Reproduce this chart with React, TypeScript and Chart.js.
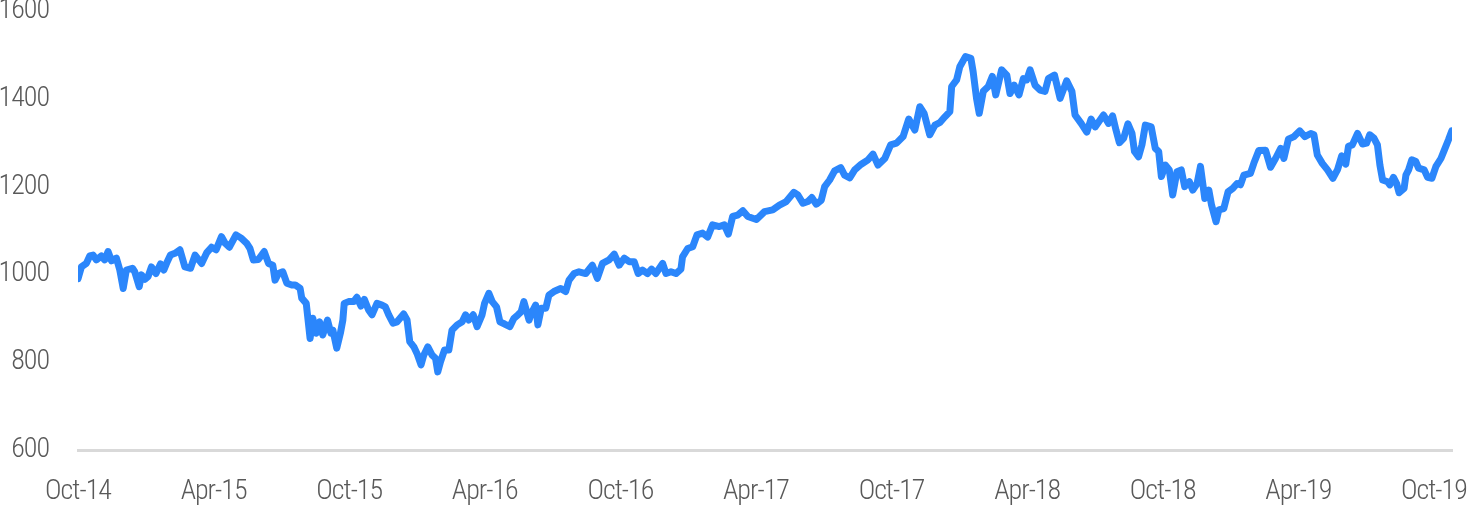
import React, { useEffect, useRef } from "react";
import { Chart, registerables } from "chart.js";

Chart.register(...registerables);

// Months elapsed since Oct-2014 for each observation
const months = [
  0.0, 0.15, 0.37, 0.52, 0.67, 0.81, 1.03, 1.18, 1.33, 1.48, 1.7, 1.85, 2.0, 2.14, 2.41, 2.51, 2.71, 2.81, 2.96, 3.1,
  3.25, 3.45, 3.65, 3.8, 3.95, 4.09, 4.29, 4.51, 4.73, 4.98, 5.18, 5.47, 5.69, 5.91, 6.11, 6.35, 6.51, 6.7, 6.99, 7.24,
  7.46, 7.61, 7.76, 7.98, 8.24, 8.43, 8.62, 8.72, 8.87, 9.06, 9.24, 9.46, 9.61, 9.83, 9.9, 10.1, 10.27, 10.39, 10.54, 10.69,
  10.83, 11.04, 11.19, 11.28, 11.45, 11.61, 11.72, 11.78, 11.97, 12.2, 12.34, 12.52, 12.67, 12.86, 13.01, 13.23, 13.45, 13.6, 13.75, 13.94,
  14.12, 14.41, 14.56, 14.68, 14.86, 15.0, 15.18, 15.3, 15.48, 15.67, 15.82, 15.92, 16.04, 16.22, 16.41, 16.55, 16.78, 17.0, 17.15, 17.29,
  17.49, 17.66, 17.88, 17.99, 18.18, 18.33, 18.52, 18.67, 18.88, 19.11, 19.29, 19.47, 19.61, 19.73, 19.96, 20.06, 20.25, 20.35, 20.5, 20.7,
  20.84, 21.06, 21.36, 21.58, 21.73, 21.95, 22.17, 22.47, 22.76, 22.98, 23.21, 23.5, 23.73, 23.95, 24.17, 24.39, 24.61, 24.79, 24.98, 25.2,
  25.38, 25.57, 25.87, 26.02, 26.24, 26.46, 26.68, 26.75, 26.98, 27.2, 27.39, 27.64, 27.86, 28.08, 28.38, 28.6, 28.78, 28.97, 29.19, 29.42,
  29.64, 29.86, 30.02, 30.38, 30.74, 31.04, 31.34, 31.68, 31.85, 32.08, 32.3, 32.47, 32.67, 32.89, 33.04, 33.26, 33.48, 33.75, 33.92, 34.15,
  34.37, 34.66, 34.96, 35.18, 35.4, 35.7, 35.96, 36.22, 36.51, 36.76, 37.03, 37.25, 37.44, 37.69, 37.92, 38.14, 38.36, 38.58, 38.66, 38.88,
  39.02, 39.27, 39.51, 39.61, 39.76, 39.88, 40.06, 40.28, 40.46, 40.61, 40.87, 41.1, 41.24, 41.43, 41.64, 41.83, 41.98, 42.13, 42.35, 42.57,
  42.79, 42.94, 43.21, 43.46, 43.75, 43.98, 44.12, 44.39, 44.64, 44.83, 45.01, 45.38, 45.6, 45.78, 45.93, 46.08, 46.27, 46.46, 46.64, 46.75,
  46.93, 47.08, 47.23, 47.49, 47.67, 47.82, 47.94, 48.12, 48.29, 48.44, 48.63, 48.82, 48.97, 49.18, 49.33, 49.52, 49.67, 49.86, 50.04, 50.16,
  50.36, 50.48, 50.7, 50.89, 51.1, 51.29, 51.44, 51.59, 51.88, 52.03, 52.25, 52.55, 52.77, 52.99, 53.22, 53.36, 53.56, 53.81, 54.06, 54.29,
  54.55, 54.69, 54.84, 55.06, 55.29, 55.53, 55.73, 55.92, 56.1, 56.22, 56.39, 56.62, 56.84, 57.02, 57.16, 57.35, 57.5, 57.61, 57.73, 57.95,
  58.05, 58.21, 58.35, 58.46, 58.68, 58.76, 58.88, 59.02, 59.2, 59.32, 59.57, 59.72, 59.91, 60.09, 60.31, 60.46, 60.64, 60.79,
];

// Index level
const values = [
  990, 1017, 1025, 1042, 1044, 1033, 1042, 1033, 1052, 1031, 1037, 1010, 968, 1010, 1014, 1006, 972, 999, 989, 995,
  1017, 1002, 1024, 1010, 1029, 1044, 1048, 1056, 1017, 1014, 1044, 1025, 1049, 1062, 1056, 1086, 1071, 1062, 1090, 1082,
  1071, 1059, 1033, 1034, 1052, 1025, 1021, 987, 1002, 1006, 980, 976, 976, 968, 946, 934, 854, 900, 866, 892,
  862, 896, 866, 873, 832, 866, 896, 934, 938, 938, 948, 928, 943, 919, 908, 934, 930, 926, 908, 889,
  892, 910, 896, 847, 835, 820, 794, 816, 835, 816, 809, 778, 801, 828, 828, 873, 885, 892, 908, 896,
  908, 881, 908, 934, 957, 938, 926, 892, 887, 881, 900, 908, 915, 938, 896, 911, 930, 885, 923, 923,
  953, 961, 968, 961, 987, 1002, 1006, 1002, 1021, 991, 1025, 1033, 1046, 1021, 1037, 1029, 1029, 1002, 1010, 1002,
  1012, 1002, 1025, 1002, 1006, 1002, 1012, 1040, 1059, 1063, 1090, 1094, 1085, 1113, 1109, 1113, 1092, 1132, 1135, 1145,
  1132, 1128, 1125, 1143, 1147, 1158, 1166, 1187, 1181, 1162, 1166, 1175, 1160, 1169, 1200, 1215, 1236, 1243, 1226, 1220,
  1238, 1251, 1261, 1274, 1249, 1264, 1295, 1299, 1314, 1354, 1329, 1382, 1367, 1318, 1340, 1346, 1359, 1371, 1428, 1443,
  1473, 1496, 1492, 1462, 1401, 1367, 1417, 1428, 1451, 1409, 1466, 1454, 1412, 1431, 1409, 1446, 1443, 1466, 1431, 1420,
  1417, 1446, 1454, 1401, 1441, 1417, 1363, 1344, 1324, 1354, 1336, 1363, 1344, 1361, 1329, 1300, 1310, 1343, 1321, 1280,
  1268, 1295, 1340, 1336, 1287, 1280, 1223, 1249, 1238, 1181, 1234, 1238, 1200, 1211, 1192, 1207, 1246, 1173, 1192, 1158,
  1120, 1147, 1150, 1188, 1196, 1207, 1204, 1226, 1230, 1253, 1282, 1283, 1244, 1264, 1287, 1264, 1308, 1314, 1327, 1314,
  1321, 1318, 1272, 1253, 1238, 1219, 1238, 1270, 1251, 1292, 1295, 1321, 1297, 1299, 1318, 1310, 1295, 1249, 1215, 1211,
  1204, 1221, 1207, 1186, 1196, 1226, 1238, 1261, 1257, 1242, 1238, 1221, 1219, 1246, 1264, 1283, 1306, 1327,
];

const xTickMonths = [0, 6, 12, 18, 24, 30, 36, 42, 48, 54, 60];
const xTickLabels = ["Oct-14", "Apr-15", "Oct-15", "Apr-16", "Oct-16", "Apr-17", "Oct-17", "Apr-18", "Oct-18", "Apr-19", "Oct-19"];
const yTicks = [600, 800, 1000, 1200, 1400, 1600];

const FONT_FAMILY = "'Roboto Condensed', Roboto, sans-serif";
const TEXT_COLOR = "#595959";

const narrowText = {
  id: "narrowText",
  beforeDraw(chart: any) {
    chart.ctx.letterSpacing = "-1px";
  },
  afterDraw(chart: any) {
    chart.ctx.letterSpacing = "0px";
  },
};

export default function App() {
  const canvasRef = useRef<HTMLCanvasElement | null>(null);

  useEffect(() => {
    if (!canvasRef.current) return;
    const points = months.map((m, i) => ({ x: m, y: values[i] }));
    const chart = new Chart(canvasRef.current, {
      type: "line",
      data: {
        datasets: [
          {
            data: points,
            borderColor: "#2b86fb",
            borderWidth: 7,
            pointRadius: 0,
            tension: 0,
            borderJoinStyle: "round",
            borderCapStyle: "round",
            fill: false,
          },
        ],
      },
      plugins: [narrowText],
      options: {
        animation: false,
        responsive: true,
        maintainAspectRatio: false,
        layout: { padding: { top: 11, right: 16, bottom: 0, left: 0 } },
        plugins: { legend: { display: false }, tooltip: { enabled: false } },
        scales: {
          x: {
            type: "linear",
            min: 0,
            max: 60.8,
            afterBuildTicks: (scale: any) => {
              scale.ticks = xTickMonths.map((v) => ({ value: v }));
            },
            afterFit: (scale: any) => {
              scale.height = 56;
              scale.paddingLeft = 0;
              scale.paddingRight = 0;
            },
            grid: { display: false, drawTicks: false },
            border: { display: true, color: "#d9d9d9", width: 3 },
            ticks: {
              autoSkip: false,
              maxRotation: 0,
              padding: 25,
              color: TEXT_COLOR,
              font: { family: FONT_FAMILY, size: 28, weight: "300", lineHeight: 1.2 },
              callback: (v: any) => {
                const idx = xTickMonths.indexOf(Number(v));
                return idx >= 0 ? xTickLabels[idx] : "";
              },
            },
          },
          y: {
            min: 600,
            max: 1600,
            afterBuildTicks: (scale: any) => {
              scale.ticks = yTicks.map((v) => ({ value: v }));
            },
            afterFit: (scale: any) => {
              scale.width = 78;
              scale.paddingTop = 0;
              scale.paddingBottom = 0;
            },
            grid: { display: false, drawTicks: false },
            border: { display: false },
            ticks: {
              padding: 29,
              color: TEXT_COLOR,
              font: { family: FONT_FAMILY, size: 28, weight: "300", lineHeight: 1 },
              callback: (v: any) => String(v),
            },
          },
        },
      },
    });
    return () => chart.destroy();
  }, []);

  return (
    <div style={{ position: "fixed", left: 0, top: 0, width: 1468, height: 506, background: "#fff" }}>
      <canvas ref={canvasRef} />
    </div>
  );
}
